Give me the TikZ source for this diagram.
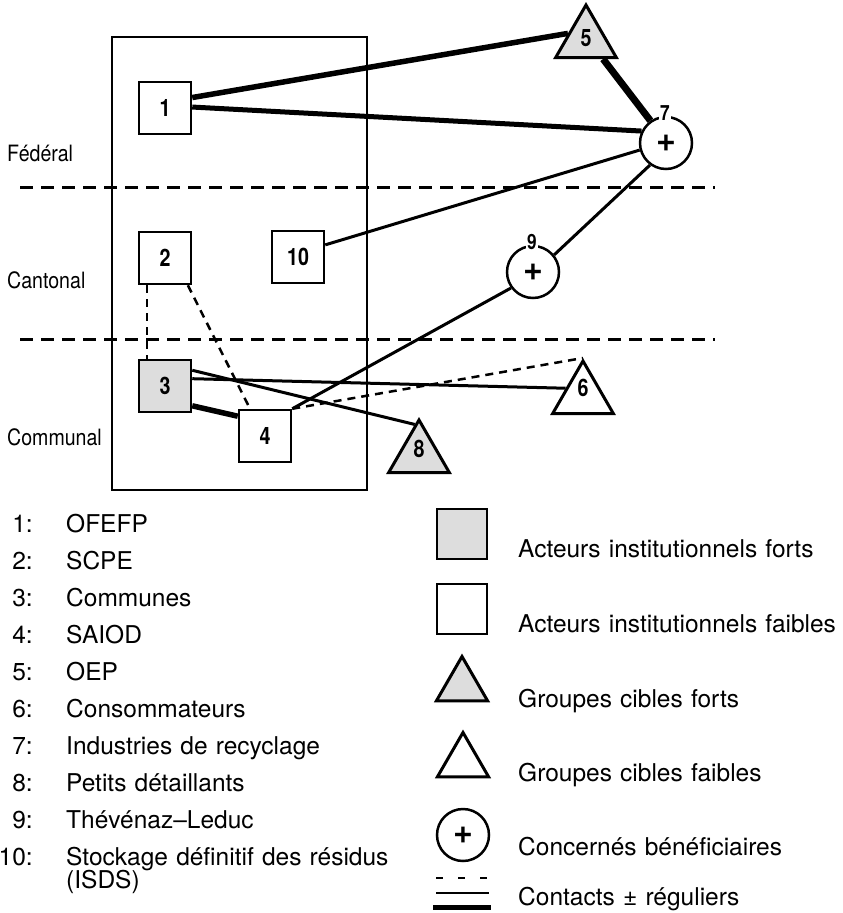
\documentclass[tikz,border=0pt]{standalone}
\usepackage{fontspec}
\setmainfont{TeX Gyre Heros}[WordSpace=1.2]
\newfontfamily\narrowfont[FakeStretch=0.87]{TeX Gyre Heros}
\newfontfamily\numfont[FakeStretch=0.82]{TeX Gyre Heros}
\usetikzlibrary{shapes.geometric,calc}
\definecolor{fillgray}{HTML}{DDDDDD}

\begin{document}
\begin{tikzpicture}[x=1pt,y=-1pt,
  numtext/.style={font=\numfont\bfseries\fontsize{24}{24}\selectfont},
  box/.style={draw,rectangle,minimum size=52pt,inner sep=0pt,line width=2.5pt,numtext},
  tri/.style={draw,regular polygon,regular polygon sides=3,minimum size=70pt,inner sep=0pt,line width=3pt},
  ben/.style={draw,circle,minimum size=52pt,inner sep=0pt,line width=2.5pt,
    font=\bfseries\fontsize{34}{34}\selectfont},
  circlab/.style={fill=white,inner sep=1pt,font=\numfont\bfseries\fontsize{21}{21}\selectfont},
  level/.style={anchor=base west,inner sep=0pt,font=\narrowfont\fontsize{22.5}{22.5}\selectfont},
  txt/.style={inner sep=0pt,font=\fontsize{24.5}{24.5}\selectfont},
  thin conn/.style={line width=3pt},
  dashed conn/.style={line width=2.5pt,dash pattern=on 8pt off 6pt},
  levelline/.style={line width=3pt,dash pattern=on 13pt off 8pt},
]
\useasboundingbox (0,0) rectangle (843,913);

% government levels
\draw[levelline] (20,187) -- (715,187);
\draw[levelline] (20,339) -- (715,339);
\node[level] at (7,161) {Fédéral};
\node[level] at (7,288) {Cantonal};
\node[level] at (7,445) {Communal};

% frame of the institutional actors
\draw[line width=2.5pt] (112,37) rectangle (367,490);

% actors
\node[box] (b1) at (165,108) {1};
\node[box] (b2) at (165,258) {2};
\node[box] (b10) at (298,257) {10};
\node[box,fill=fillgray] (b3) at (165,386) {3};
\node[box] (b4) at (265,436) {4};
\node[tri,fill=fillgray] (t5) at (586,40) {};
\node[numtext] at ([yshift=2pt]t5.center) {5};
\node[tri] (t6) at (583,396) {};
\node[numtext] at ([yshift=8pt]t6.center) {6};
\node[tri,fill=fillgray] (t8) at (419,455) {};
\node[numtext] at ([yshift=6pt]t8.center) {8};
\node[ben] (c7) at (666,143) {+};
\node[circlab] at (665,113) {7};
\node[ben] (c9) at (533,272) {+};
\node[circlab] at (532,242) {9};

% contacts
\draw[line width=5.5pt] (b1.21) -- (t5.160);
\draw[line width=5pt] (b1.2) -- (c7.154);
\draw[line width=7pt] (t5.-48) -- (c7.125);
\draw[thin conn] (b10.24) -- (c7.195);
\draw[thin conn] (c9.39) -- (c7.234);
\draw[thin conn] (b4.north east) -- (c9.216);
\draw[thin conn] (b3.15) -- (t6.156);
\draw[thin conn] (b3.30) -- (t8.98);
\draw[line width=5.5pt] (b3.-36) -- (b4.144);
\draw[dashed conn] (b4.north east) -- (t6.corner 1);
\draw[dashed conn] ([xshift=-18pt]b2.south) -- ([xshift=-18pt]b3.north);
\draw[dashed conn] (b2.-50) -- ([xshift=-15pt]b4.north);

% list of actors
\foreach \n/\name [count=\i from 0] in {1/OFEFP,2/SCPE,3/Communes,4/SAIOD,5/OEP,
    6/Consommateurs,7/Industries de recyclage,8/Petits détaillants,
    9/Thévénaz–Leduc,10/Stockage définitif des résidus}{
  \node[txt,anchor=base east] at (33,532+37*\i) {\n:};
  \node[txt,anchor=base west] at (66,532+37*\i) {\name};
}
\node[txt,anchor=base west] at (66,888) {(ISDS)};

% legend
\node[draw,rectangle,minimum size=50pt,inner sep=0pt,line width=2.5pt,fill=fillgray] (k1) at (462,534) {};
\node[txt,anchor=base west] at (518,557) {Acteurs institutionnels forts};
\node[draw,rectangle,minimum size=50pt,inner sep=0pt,line width=2.5pt] (k2) at (462,609) {};
\node[txt,anchor=base west] at (518,632) {Acteurs institutionnels faibles};
\node[tri,minimum size=59pt,fill=fillgray] (k3) at (462,686) {};
\node[txt,anchor=base west] at (518,707) {Groupes cibles forts};
\node[tri,minimum size=59pt] (k4) at (463,762) {};
\node[txt,anchor=base west] at (518,781) {Groupes cibles faibles};
\node[ben] (k5) at (463,835) {+};
\node[txt,anchor=base west] at (518,855) {Concernés bénéficiaires};
\draw[line width=2.5pt,dash pattern=on 7pt off 15pt] (436,878) -- (489,878);
\draw[line width=2.5pt] (436,893) -- (489,893);
\draw[line width=5pt] (433,907) -- (491,907);
\node[txt,anchor=base west] at (518,905) {Contacts ± réguliers};
\end{tikzpicture}
\end{document}
